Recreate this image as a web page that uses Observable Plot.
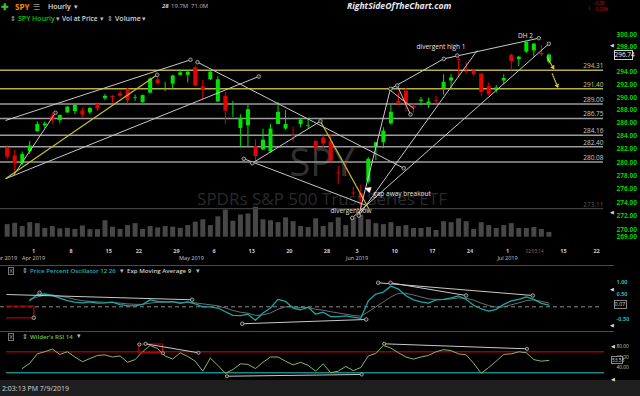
<!DOCTYPE html>
<html><head><meta charset="utf-8">
<script src="https://cdn.jsdelivr.net/npm/d3@7"></script>
<script src="https://cdn.jsdelivr.net/npm/@observablehq/plot@0.6"></script>
<style>
html,body{margin:0;padding:0;background:#000;}
#wrap{position:relative;width:640px;height:396px;overflow:hidden;background:#000;font-family:"Open Sans",sans-serif;}
#wrap svg{position:absolute;left:0;top:0;background:transparent !important;overflow:visible;}
.t{position:absolute;white-space:nowrap;}
</style></head><body><div id="wrap"></div>
<script>
// ---------- data ----------
const dates = ["Mar 26","Mar 27","Mar 28","Mar 29","Apr 1","Apr 2","Apr 3","Apr 4","Apr 5","Apr 8","Apr 9","Apr 10","Apr 11","Apr 12","Apr 15","Apr 16","Apr 17","Apr 18","Apr 22","Apr 23","Apr 24","Apr 25","Apr 26","Apr 29","Apr 30","May 1","May 2","May 3","May 6","May 7","May 8","May 9","May 10","May 13","May 14","May 15","May 16","May 17","May 20","May 21","May 22","May 23","May 24","May 28","May 29","May 30","May 31","Jun 3","Jun 4","Jun 5","Jun 6","Jun 7","Jun 10","Jun 11","Jun 12","Jun 13","Jun 14","Jun 17","Jun 18","Jun 19","Jun 20","Jun 21","Jun 24","Jun 25","Jun 26","Jun 27","Jun 28","Jul 1","Jul 2","Jul 3","Jul 5","Jul 8","Jul 9"];
const open  = [282.2,281.0,279.8,281.6,284.7,285.6,287.0,286.4,287.6,287.8,287.9,287.6,288.9,289.8,290.2,290.6,291.3,289.9,289.2,290.7,292.8,292.1,292.1,293.5,293.5,294.7,291.7,292.8,289.3,290.2,287.5,285.2,285.6,282.4,281.9,281.6,285.8,285.1,284.1,285.8,285.5,283.2,283.7,283.1,278.4,279.1,275.4,275.3,277.1,282.3,283.0,285.9,289.4,291.0,288.6,289.4,289.0,289.5,291.4,292.6,296.0,294.1,294.2,293.7,291.7,291.1,292.6,296.7,296.0,297.2,297.4,297.0,295.6];
const high  = [282.6,281.8,281.6,283.2,286.2,286.2,287.6,287.3,288.6,288.8,288.4,288.4,289.0,290.5,290.3,291.0,291.4,290.4,290.4,293.1,293.2,292.4,293.5,294.4,294.3,295.0,292.7,294.2,293.3,290.8,289.4,287.3,288.9,283.5,285.1,285.8,289.2,288.0,285.4,286.7,286.7,283.3,284.2,284.2,279.4,280.0,276.3,276.6,280.7,283.0,285.3,288.8,290.8,291.4,289.0,290.0,289.9,290.2,293.6,293.6,296.3,295.5,294.4,293.7,292.3,291.9,293.6,296.9,296.5,298.8,298.6,298.3,296.9];
const low   = [280.4,278.4,279.5,281.2,284.6,285.2,285.8,285.9,287.5,287.3,286.9,287.3,287.8,289.5,289.1,289.9,289.0,289.4,289.1,290.6,292.0,290.9,291.2,293.4,292.3,291.8,289.7,292.7,289.3,285.8,286.9,282.3,282.3,279.9,281.8,281.4,285.8,284.9,283.1,285.3,285.1,280.8,282.1,280.1,276.7,277.9,275.0,273.1,276.8,280.3,282.1,285.7,288.8,287.8,287.6,288.7,288.3,289.0,290.4,291.2,293.1,293.6,293.3,290.1,290.2,290.7,292.0,294.2,294.9,297.0,296.4,296.5,295.3];
const close = [280.8,279.8,281.2,282.5,285.8,285.9,286.4,287.2,288.5,288.8,287.3,288.3,288.2,290.2,290.0,290.2,289.5,290.0,290.3,292.9,292.2,292.1,293.4,293.9,294.0,291.8,291.2,294.0,292.8,287.9,287.5,286.7,288.1,280.9,283.4,285.1,287.7,285.8,284.0,286.5,285.6,282.1,282.8,280.2,278.3,279.0,275.3,274.6,280.5,283.0,284.8,287.7,289.0,288.9,288.4,289.6,289.3,289.4,292.4,293.1,295.9,294.0,293.6,290.8,290.5,291.5,293.0,295.7,296.4,298.8,298.5,296.8,296.74];
const volume = [65,72,55,75,70,46,55,43,46,40,58,39,39,85,52,40,60,70,40,55,48,55,52,46,60,78,90,60,105,140,82,115,120,155,90,85,75,100,80,55,50,95,55,75,100,60,100,115,90,70,65,75,55,60,45,45,50,35,80,75,95,80,40,75,60,45,60,70,45,45,50,40,25];
const ppo    = [null,null,null,0.25,0.5,0.52,0.46,0.35,0.25,0.19,0.16,0.2,0.15,0.16,0.19,0.09,0.05,0.04,0.1,0.28,0.22,0.2,0.21,0.14,0.2,0.12,0.0,0.0,-0.05,-0.2,-0.35,-0.36,-0.3,-0.55,-0.25,-0.05,0.3,0.22,-0.05,-0.12,-0.02,-0.3,-0.22,-0.4,-0.4,-0.37,-0.42,-0.47,0.25,0.52,0.6,0.84,0.72,0.45,0.28,0.2,0.15,0.28,0.3,0.36,0.44,0.3,0.06,-0.08,-0.18,-0.1,0.1,0.24,0.3,0.4,0.3,0.14,0.07];
const signal = [null,null,null,0.3,0.4,0.47,0.48,0.44,0.38,0.3,0.25,0.22,0.2,0.18,0.18,0.15,0.12,0.1,0.1,0.15,0.18,0.19,0.2,0.18,0.18,0.16,0.12,0.08,0.04,-0.05,-0.15,-0.22,-0.26,-0.35,-0.33,-0.25,-0.1,0.0,0.0,-0.03,-0.03,-0.1,-0.14,-0.2,-0.25,-0.3,-0.35,-0.38,-0.2,0.0,0.2,0.4,0.55,0.55,0.48,0.4,0.32,0.3,0.3,0.32,0.36,0.35,0.27,0.15,0.05,-0.02,0.0,0.08,0.16,0.25,0.28,0.22,0.15];
const rsi    = [null,null,38,48,66,70,75,65,70,60,51,57,63,64,60,62,50,55,70,82,76,62,56,68,61,52,33,58,44,29,36,47,46,38,50,60,60,52,45,50,44,33,47,30,33,42,34,40,62,67,82,77,68,60,56,60,63,70,74,72,66,64,48,29,40,52,65,66,70,68,55,52,53.5];

const dayTickIdx = [3,8,13,17,22,27,32,37,42,46,51,56,61,66,73.44,77.83];
const dayTickLbl = ["1","8","15","22","29","6","13","20","28","3","10","17","24","1","15","22"];
const monthTickIdx = [-0.8,3,24,46,66];
const monthTickLbl = ["Mar 2019","Apr 2019","May 2019","Jun 2019","Jul 2019"];
const priceTicks = [300,298,294,292,290,288,286,284,282,280,278,276,274,272,270,269];
const yellowLevels = [294.31,291.40];
const grayLevels = [289.00,286.75,284.16,282.40,280.08];
const dimLevels = [273.11];
const lastPrice = 296.74, lastPPO = 0.07, lastRSI = 53.53;
const ppoTicks = [1.0,0.5,-0.5];
const rsiTicks = [80,60,40];

// annotations in data coordinates: [day1, value1, day2, value2]
const trendLines = [[-1.22,286.43,23.36,295.97],[-1.22,277.54,32.44,293.32],[-0.16,278.04,5.42,287.62],[24.30,295.59,51.71,279.14],[30.45,280.56,46.76,273.57],[31.57,279.89,40.64,286.32],[49.94,291.37,57.03,296.13],[57.03,296.13,69.66,299.45],[45.73,272.09,49.94,291.37],[45.73,272.09,61.47,297.47],[44.86,271.75,70.99,298.54],[50.84,291.89,52.60,287.36],[49.94,291.11,53.05,288.24]];
const yellowTrend = [[-1.22,277.54,18.94,293.59],[40.64,286.32,47.06,273.08]];
const handles = [[23.36,295.97],[24.30,295.59],[32.44,293.32],[5.42,287.62],[30.45,280.56],[31.57,279.89],[40.64,286.32],[51.71,279.14],[44.86,271.75],[45.73,272.09],[49.94,291.37],[50.84,291.89],[52.60,287.36],[57.03,296.13],[58.81,296.66],[69.66,299.45],[70.99,298.54],[18.94,293.59]];
const yellowArrows = [[70.77,296.39,71.65,294.54],[71.44,293.75,72.18,291.63]];
const notesMid = [["divergent high 1",56.66,298.0],["DH 2",67.89,299.77],["divergent low",44.7,272.73]];
const notesStart = [["gap away breakout",47.65,275.3]];
const pointer = [[46.85,276.1]];
const ppoTrend = [[-1.09,0.5,23.59,0.285],[30.24,-0.69,46.72,-0.516],[48.31,0.976,68.86,0.459],[49.94,0.976,60.0,0.459]];
const ppoHandles = [[3.3,0.57],[23.59,0.285],[30.24,-0.69],[46.72,-0.516],[48.31,0.976],[49.94,0.976],[60.0,0.459],[68.86,0.459],[2.54,-0.447]];
const ppoBracket = [[-1.09,0.024],[2.54,0.024],[2.54,-0.447],[-1.09,-0.447]];
const rsiTrend = [[49.11,85.1,68.09,75.6],[17.38,85.1,24.43,68],[28.22,23.4,46.12,26.7]];
const rsiHandles = [[49.11,85.1],[68.09,75.6],[17.38,85.1],[24.43,68],[28.22,23.4],[46.12,26.7],[16.56,83.8],[19.7,67.2]];
const rsiBox = [[16.56,83.8,19.7,67.2]];

// ---------- build ----------
const bars = dates.map((d,k)=>({i:k-1,date:d,o:open[k],h:high[k],l:low[k],c:close[k],v:volume[k],ppo:ppo[k],sig:signal[k],rsi:rsi[k]}));
const seg = a => a.map(([x1,y1,x2,y2])=>({x1,y1,x2,y2}));
const pt = a => a.map(([x,y])=>({x,y}));
const X = {domain:[0,80], range:[14.2, 14.2+80*7.524], axis:null};
const wrap = document.getElementById("wrap");
const up = "#00e400", dn = "#e80000";
const font = "Open Sans";

function txt(s, left, cy, size, color, extra){
  const e = document.createElement("div");
  e.className = "t"; e.textContent = s;
  const lh = size*1.3;
  e.style.cssText += `left:${left}px;top:${cy-lh/2}px;font-size:${size}px;line-height:${lh}px;color:${color};${extra||""}`;
  wrap.appendChild(e); return e;
}
function box(s, cx, cy, w, size, color, border){
  return txt(s, cx - w/2, cy, size, color, `width:${w}px;text-align:center;border:1px solid ${border};background:#000;box-sizing:border-box;line-height:${size*1.25}px;top:${cy-size*0.75}px;`);
}

// status bar + separators + watermark
const sb = document.createElement("div");
sb.style.cssText = "position:absolute;left:0;top:380px;width:640px;height:16px;background:#1e1e1e;";
wrap.appendChild(sb);
txt("2:03:13 PM 7/9/2019", 2, 388.5, 7, "#d8d8d8");
[264.5, 331].forEach(y=>{const l=document.createElement("div");l.style.cssText=`position:absolute;left:0;top:${y}px;width:614px;height:1px;background:#4a4a4a;`;wrap.appendChild(l);});
txt("SPY", 322, 162, 38, "#303030", "transform:translateX(-50%);");
txt("SPDRs S&P 500 Trust Series ETF", 322, 199, 17, "#2a2a2a", "transform:translateX(-50%);");

// volume
wrap.appendChild(Plot.plot({
  width:640, height:396, margin:0, x:X,
  y:{domain:[0,155], range:[236.7,206.7], axis:null},
  marks:[Plot.ruleX(bars,{x:"i",y1:0,y2:"v",stroke:"#474747",strokeWidth:5})]
}));

// price
const mainPlot = Plot.plot({
  width:640, height:396, marginLeft:0, marginRight:37, marginTop:20, marginBottom:145,
  x:X, y:{type:"log", domain:[270,300], range:[229.3,34.3], axis:null},
  marks:[
    Plot.ruleY(yellowLevels,{y:d=>d,stroke:"#b8b04a",strokeWidth:1.5}),
    Plot.ruleY(grayLevels,{y:d=>d,stroke:"#9c9c9c",strokeWidth:1.5}),
    Plot.ruleY(dimLevels,{y:d=>d,stroke:"#3e3e3e",strokeWidth:1.2}),
    Plot.text(yellowLevels,{y:d=>d,text:d=>d.toFixed(2),frameAnchor:"right",textAnchor:"end",dy:-4,fill:"#cfc784",fontSize:6.5,fontFamily:font}),
    Plot.text(grayLevels,{y:d=>d,text:d=>d.toFixed(2),frameAnchor:"right",textAnchor:"end",dy:-4,fill:"#c8c8c8",fontSize:6.5,fontFamily:font}),
    Plot.text(dimLevels,{y:d=>d,text:d=>d.toFixed(2),frameAnchor:"right",textAnchor:"end",dy:-4,fill:"#555",fontSize:6.5,fontFamily:font}),
    Plot.ruleX(bars,{x:"i",y1:"l",y2:"h",stroke:d=>d.c>=d.o?up:dn,strokeWidth:1}),
    Plot.ruleX(bars,{x:"i",y1:"o",y2:"c",stroke:d=>d.c>=d.o?up:dn,strokeWidth:4}),
    Plot.link(seg(trendLines),{x1:"x1",y1:"y1",x2:"x2",y2:"y2",stroke:"#c8c8c8",strokeWidth:1}),
    Plot.link(seg(yellowTrend),{x1:"x1",y1:"y1",x2:"x2",y2:"y2",stroke:"#c9c12c",strokeWidth:1.2}),
    Plot.dot(pt(handles),{x:"x",y:"y",r:1.8,stroke:"#bbb",fill:"#222",strokeWidth:0.8}),
    Plot.arrow(seg(yellowArrows),{x1:"x1",y1:"y1",x2:"x2",y2:"y2",stroke:"#e6d21e",strokeWidth:1.2,strokeDasharray:"1.2,1.2",headLength:4}),
    Plot.text(notesMid,{x:d=>d[1],y:d=>d[2],text:d=>d[0],fill:"#e4e4e4",fontSize:6.5,fontFamily:font}),
    Plot.text(notesStart,{x:d=>d[1],y:d=>d[2],text:d=>d[0],textAnchor:"start",fill:"#e4e4e4",fontSize:6.5,fontFamily:font}),
    Plot.text(pointer,{x:d=>d[0],y:d=>d[1],text:()=>"◀",fill:"#fff",fontSize:8,rotate:20}),
    Plot.text(priceTicks,{y:d=>d,text:d=>d.toFixed(2),frameAnchor:"right",dx:13,textAnchor:"start",fill:"#00cc00",fontSize:6.5,fontWeight:"bold",fontFamily:font}),
    Plot.text([298.3,272.6],{y:d=>d,text:()=>"◀",frameAnchor:"right",dx:10,fill:"#ddd",fontSize:5}),
    Plot.text(dayTickIdx.map((v,k)=>({v,t:dayTickLbl[k]})),{x:d=>d.v-0.5,text:"t",frameAnchor:"bottom",lineAnchor:"middle",fill:"#c8c8c8",fontSize:5.5,fontWeight:"bold",fontFamily:font}),
    Plot.text(monthTickIdx.map((v,k)=>({v,t:monthTickLbl[k]})),{x:d=>d.v-0.5,text:"t",frameAnchor:"bottom",lineAnchor:"middle",dy:6.5,fill:"#c8c8c8",fontSize:5.5,fontFamily:font}),
    Plot.text(["02:03:14"],{x:()=>69.1,text:d=>d,frameAnchor:"bottom",lineAnchor:"middle",fill:"#777",fontSize:4.5,fontFamily:font})
  ]
});
wrap.appendChild(mainPlot);

// PPO
const ppoRows = bars.filter(d=>d.ppo!=null);
const ppoPlot = Plot.plot({
  width:640, height:396, marginLeft:0, marginRight:40, marginTop:280, marginBottom:76,
  x:X, y:{domain:[-0.5,1], range:[318.6,281.7], axis:null},
  marks:[
    Plot.ruleY([0],{stroke:"#8a8a8a",strokeDasharray:"4,3",strokeWidth:1}),
    Plot.line(ppoBracket,{x:d=>d[0],y:d=>d[1],stroke:"#b40000",strokeWidth:1.3}),
    Plot.line(ppoRows,{x:"i",y:"sig",stroke:"#8a8a8a",strokeWidth:0.8}),
    Plot.line(ppoRows,{x:"i",y:"ppo",stroke:"#1aa7a7",strokeWidth:1.3}),
    Plot.link(seg(ppoTrend),{x1:"x1",y1:"y1",x2:"x2",y2:"y2",stroke:"#c8c8c8",strokeWidth:1}),
    Plot.dot(pt(ppoHandles),{x:"x",y:"y",r:1.8,stroke:"#bbb",fill:"#222",strokeWidth:0.8}),
    Plot.text(ppoTicks,{y:d=>d,text:d=>d.toFixed(2),frameAnchor:"right",dx:16,textAnchor:"start",fill:"#2ab8b8",fontSize:5.5,fontWeight:"bold",fontFamily:font}),
    Plot.text([0.7,-0.76],{y:d=>d,text:()=>"◀",frameAnchor:"right",dx:13,fill:"#ddd",fontSize:5})
  ]
});
wrap.appendChild(ppoPlot);

// RSI
const rsiRows = bars.filter(d=>d.rsi!=null);
const rsiPlot = Plot.plot({
  width:640, height:396, marginLeft:6, marginRight:36, marginTop:343, marginBottom:18,
  x:X, y:{domain:[30,70], range:[372.25,351.25], axis:null},
  marks:[
    Plot.ruleY([70],{stroke:"#a00000",strokeWidth:1.3}),
    Plot.ruleY([30],{stroke:"#158a8a",strokeWidth:1.3}),
    Plot.line(rsiRows,{x:"i",y:"rsi",stroke:"#8fb46a",strokeWidth:1}),
    Plot.rect(rsiBox,{x1:d=>d[0],y1:d=>d[1],x2:d=>d[2],y2:d=>d[3],stroke:"#d00000",fill:"none",strokeWidth:1}),
    Plot.link(seg(rsiTrend),{x1:"x1",y1:"y1",x2:"x2",y2:"y2",stroke:"#c8c8c8",strokeWidth:1}),
    Plot.dot(pt(rsiHandles),{x:"x",y:"y",r:1.6,stroke:"#bbb",fill:"#222",strokeWidth:0.8}),
    Plot.text(rsiTicks,{y:d=>d,text:d=>d.toFixed(2),frameAnchor:"right",dx:12,textAnchor:"start",fill:"#b5d89a",fontSize:4.8,fontFamily:font}),
    Plot.text([80,18],{y:d=>d,text:()=>"◀",frameAnchor:"right",dx:10,fill:"#ddd",fontSize:5})
  ]
});
wrap.appendChild(rsiPlot);

// value boxes placed through the plots' own scales
box(lastPrice.toFixed(2), 623, mainPlot.scale("y").apply(lastPrice), 19, 6.5, "#f0f0f0", "#d0d0d0");
box(lastPPO.toFixed(2), 620, ppoPlot.scale("y").apply(lastPPO), 13, 5.5, "#ddd", "#888");
box(lastRSI.toFixed(2), 617, rsiPlot.scale("y").apply(lastRSI), 12, 4.8, "#ddd", "#888");

// header rows
txt("✚", 1, 7, 9, "#34c634", "font-weight:bold;");
txt("SPY", 15, 7, 8, "#ff8a00", "font-weight:bold;");
txt("☰", 33, 7, 8, "#9a9a9a");
txt("Hourly", 48, 7, 7, "#e0e0e0", "font-weight:600;");
txt("▾", 74, 7, 7, "#ccc");
txt("28", 162, 7, 6, "#ccc", "font-style:italic;font-weight:bold;");
txt("19.7M", 171, 7, 6, "#bbb");
txt("71.0M", 191, 7, 6, "#bbb");
txt("RightSideOfTheChart.com", 347, 7, 8.6, "#e8e8f2", "font-style:italic;font-weight:bold;");
txt("↓", 587, 7, 8, "#e00000", "font-weight:bold;");
txt("-0.08", 594, 4, 4.5, "#e00000");
txt("-0.03%", 594, 10, 4.5, "#e00000");
txt("⇕", 10, 19, 7, "#bbb");
txt("SPY Hourly", 18, 19, 7, "#13c313", "font-weight:600;");
txt("▾", 56, 19, 7, "#bbb");
txt("Vol at Price", 62, 19, 6.6, "#d8d8d8", "font-weight:600;");
txt("▾", 100, 19, 7, "#bbb");
txt("⇕", 107, 19, 7, "#bbb");
txt("Volume", 115, 19, 7, "#d8d8d8", "font-weight:600;");
txt("▾", 142, 19, 7, "#bbb");
// indicator headers
[[271,"Price Percent Oscillator 12 26","#1fb4b4"],[336.7,"Wilder's RSI 14","#6cc24a"]].forEach(([cy,name,col])=>{
  txt("X", 8, cy, 5.5, "#bbb", "border:1px solid #777;width:6px;text-align:center;box-sizing:border-box;line-height:6px;height:8px;");
  txt("⇕", 22, cy, 7, "#bbb");
  txt(name, 30, cy, 6.1, col, "font-weight:600;");
});
txt("▾", 120, 271, 6.5, "#bbb");
txt("Exp Moving Average 9", 127, 271, 6.1, "#d0d0d0", "font-weight:600;");
txt("▾", 196, 271, 6.5, "#bbb");
txt("▾", 77, 336.7, 6.5, "#bbb");
</script></body></html>
